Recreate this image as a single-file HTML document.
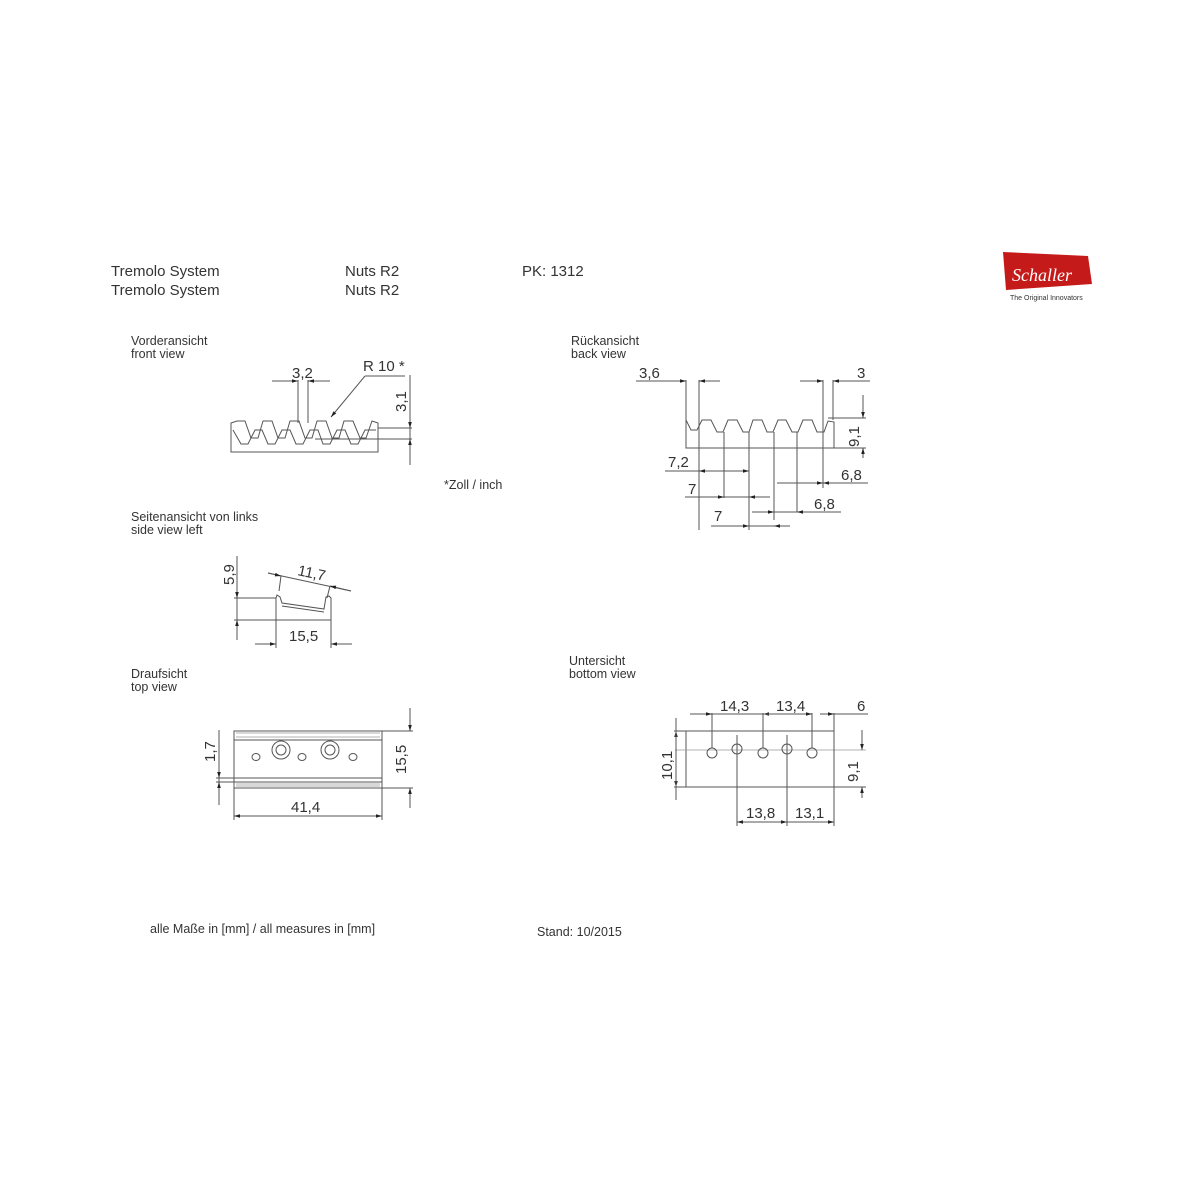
<!DOCTYPE html>
<html><head><meta charset="utf-8"><style>
body{margin:0;background:#fff;}
svg{display:block;}
text{font-family:"Liberation Sans","DejaVu Sans",sans-serif;fill:#333;}
.l{stroke:#555;stroke-width:1;fill:none;}
.t{stroke:#999;stroke-width:0.8;fill:none;}
</style></head><body>
<svg width="1200" height="1200" viewBox="0 0 1200 1200" xmlns="http://www.w3.org/2000/svg">
<defs><marker id="a" viewBox="0 0 10 10" refX="10" refY="5" markerWidth="10" markerHeight="6" orient="auto-start-reverse"><path d="M0,2L10,5L0,8z" fill="#222"/></marker></defs>
<g font-size="15">
<text x="111" y="276">Tremolo System</text><text x="111" y="295">Tremolo System</text>
<text x="345" y="276">Nuts R2</text><text x="345" y="295">Nuts R2</text>
<text x="522" y="276">PK: 1312</text>
</g>
<g font-size="12.5">
<text x="131" y="345">Vorderansicht</text><text x="131" y="358">front view</text>
<text x="571" y="345">Rückansicht</text><text x="571" y="358">back view</text>
<text x="131" y="521">Seitenansicht von links</text><text x="131" y="534">side view left</text>
<text x="131" y="678">Draufsicht</text><text x="131" y="691">top view</text>
<text x="569" y="665">Untersicht</text><text x="569" y="678">bottom view</text>
<text x="444" y="489">*Zoll / inch</text>
<text x="150" y="933">alle Maße in [mm] / all measures in [mm]</text>
<text x="537" y="936">Stand: 10/2015</text>
</g>
<!-- logo -->
<polygon points="1003,252 1088,256 1092,284 1006,290" fill="#c41a1a"/>
<text x="1012" y="281" font-size="18" font-style="italic" style="fill:#fff;font-family:'Liberation Serif',serif">Schaller</text>
<text x="1010" y="300" font-size="7">The Original Innovators</text>

<!-- FRONT VIEW -->
<g class="l">
<path d="M231,452 H378 V423 L372,421 L366,438 L360,438 L353,421 L344,421 L339,438 L332,438 L326,421 L317,421 L312,438 L305,438 L299,421 L290,421 L285,438 L278,438 L272,421 L263,421 L258,438 L251,438 L245,421 L237,421 L231,423 Z"/>
<path d="M233,430 L241,444 L248,444 L255,430 L262,430 L268,444 L275,444 L282,430 L290,430 L296,444 L303,444 L310,430 L318,430 L323,444 L330,444 L337,430 L345,430 L351,444 L358,444 L365,430 L376,430"/>
<line x1="298" y1="380" x2="298" y2="423"/><line x1="308" y1="380" x2="308" y2="423"/>
<line x1="272" y1="381" x2="298" y2="381" marker-end="url(#a)"/><line x1="330" y1="381" x2="308" y2="381" marker-end="url(#a)"/>
<path d="M410,375 V465"/>
<line x1="378" y1="428" x2="412" y2="428"/><line x1="315" y1="439" x2="412" y2="439"/>
<line x1="410" y1="410" x2="410" y2="428" marker-end="url(#a)"/><line x1="410" y1="455" x2="410" y2="439" marker-end="url(#a)"/>
<path d="M365,376 H405"/><line x1="365" y1="376" x2="331" y2="417" marker-end="url(#a)"/>
</g>
<text x="292" y="378" font-size="15">3,2</text>
<text x="363" y="371" font-size="15">R 10 *</text>
<text transform="translate(406,412) rotate(-90)" font-size="15">3,1</text>

<!-- BACK VIEW -->
<g class="l">
<path d="M686,448 H834 V422 L828,421 L824,432 L817,432 L812,420 L803,420 L798,432 L792,432 L786,420 L778,420 L773,432 L767,432 L762,420 L753,420 L749,432 L743,432 L737,420 L728,420 L723,432 L717,432 L711,420 L702,420 L697,430 L691,430 L686,420 Z"/>
<line x1="686" y1="380" x2="686" y2="420"/><line x1="699" y1="380" x2="699" y2="530"/>
<line x1="724" y1="432" x2="724" y2="498"/><line x1="749" y1="432" x2="749" y2="530"/>
<line x1="774" y1="432" x2="774" y2="520"/><line x1="797" y1="432" x2="797" y2="512"/>
<line x1="823" y1="380" x2="823" y2="488"/><line x1="833" y1="380" x2="833" y2="420"/>
<line x1="636" y1="381" x2="686" y2="381" marker-end="url(#a)"/><line x1="720" y1="381" x2="699" y2="381" marker-end="url(#a)"/>
<line x1="800" y1="381" x2="823" y2="381" marker-end="url(#a)"/><line x1="870" y1="381" x2="833" y2="381" marker-end="url(#a)"/>
<line x1="828" y1="418" x2="866" y2="418"/><line x1="834" y1="448" x2="866" y2="448"/>
<line x1="863" y1="395" x2="863" y2="418" marker-end="url(#a)"/><line x1="863" y1="458" x2="863" y2="448" marker-end="url(#a)"/>
<line x1="665" y1="471" x2="699" y2="471"/><line x1="699" y1="471" x2="749" y2="471"/>
<line x1="720" y1="471" x2="699" y2="471" marker-end="url(#a)"/><line x1="735" y1="471" x2="749" y2="471" marker-end="url(#a)"/>
<line x1="685" y1="497" x2="770" y2="497"/>
<line x1="712" y1="497" x2="724" y2="497" marker-end="url(#a)"/><line x1="760" y1="497" x2="749" y2="497" marker-end="url(#a)"/>
<line x1="711" y1="526" x2="790" y2="526"/>
<line x1="737" y1="526" x2="749" y2="526" marker-end="url(#a)"/><line x1="785" y1="526" x2="774" y2="526" marker-end="url(#a)"/>
<line x1="777" y1="483" x2="868" y2="483"/>
<line x1="797" y1="483" x2="823" y2="483" marker-end="url(#a)"/><line x1="846" y1="483" x2="823" y2="483" marker-end="url(#a)"/>
<line x1="752" y1="512" x2="841" y2="512"/>
<line x1="768" y1="512" x2="774" y2="512" marker-end="url(#a)"/><line x1="806" y1="512" x2="797" y2="512" marker-end="url(#a)"/>
</g>
<g font-size="15">
<text x="639" y="378">3,6</text><text x="857" y="378">3</text>
<text transform="translate(859,447) rotate(-90)">9,1</text>
<text x="668" y="467">7,2</text><text x="841" y="480">6,8</text>
<text x="688" y="494">7</text><text x="814" y="509">6,8</text><text x="714" y="521">7</text>
</g>

<!-- SIDE VIEW -->
<g class="l">
<path d="M276,620 H331 V598 L329,596 L326,597 L324,609 L282,603 L280,597 L277,595 L276,598 Z"/>
<path d="M282,606 L324,612"/>
<line x1="237" y1="556" x2="237" y2="640"/>
<line x1="234" y1="598" x2="276" y2="598"/><line x1="234" y1="620" x2="276" y2="620"/>
<line x1="237" y1="585" x2="237" y2="598" marker-end="url(#a)"/><line x1="237" y1="632" x2="237" y2="620" marker-end="url(#a)"/>
<line x1="276" y1="620" x2="276" y2="648"/><line x1="331" y1="620" x2="331" y2="648"/>
<line x1="255" y1="644" x2="276" y2="644" marker-end="url(#a)"/><line x1="352" y1="644" x2="331" y2="644" marker-end="url(#a)"/>
<line x1="268" y1="573" x2="351" y2="591"/>
<line x1="279" y1="591" x2="281" y2="576"/><line x1="327" y1="598" x2="330" y2="586"/>
<line x1="268" y1="573" x2="281" y2="576" marker-end="url(#a)"/><line x1="351" y1="591" x2="330" y2="586" marker-end="url(#a)"/>
</g>
<text x="289" y="641" font-size="15">15,5</text>
<text transform="translate(297,575) rotate(12)" font-size="15">11,7</text>
<text transform="translate(234,585) rotate(-90)" font-size="15">5,9</text>

<!-- TOP VIEW -->
<g class="l">
<rect x="234" y="731" width="148" height="57"/>
<line x1="234" y1="740" x2="382" y2="740"/><line x1="234" y1="778" x2="382" y2="778"/>
<line x1="234" y1="782" x2="382" y2="782"/>
<path d="M236,733 h144 M236,737 h144 M236,784 h144 M236,786 h144" class="t"/>
<circle cx="281" cy="750" r="9"/><circle cx="281" cy="750" r="5"/>
<circle cx="330" cy="750" r="9"/><circle cx="330" cy="750" r="5"/>
<ellipse cx="256" cy="757" rx="4" ry="3.5"/><ellipse cx="302" cy="757" rx="4" ry="3.5"/><ellipse cx="353" cy="757" rx="4" ry="3.5"/>
<line x1="219" y1="730" x2="219" y2="805"/>
<line x1="216" y1="778" x2="234" y2="778"/><line x1="216" y1="782" x2="234" y2="782"/>
<line x1="219" y1="764" x2="219" y2="778" marker-end="url(#a)"/><line x1="219" y1="796" x2="219" y2="782" marker-end="url(#a)"/>
<line x1="382" y1="731" x2="413" y2="731"/><line x1="382" y1="788" x2="413" y2="788"/>
<line x1="410" y1="708" x2="410" y2="731" marker-end="url(#a)"/><line x1="410" y1="808" x2="410" y2="788" marker-end="url(#a)"/>
<line x1="234" y1="788" x2="234" y2="820"/><line x1="382" y1="788" x2="382" y2="820"/>
<line x1="308" y1="816" x2="234" y2="816" marker-end="url(#a)"/><line x1="308" y1="816" x2="382" y2="816" marker-end="url(#a)"/>
</g>
<text x="291" y="812" font-size="15">41,4</text>
<text transform="translate(215,762) rotate(-90)" font-size="15">1,7</text>
<text transform="translate(406,774) rotate(-90)" font-size="15">15,5</text>

<!-- BOTTOM VIEW -->
<g class="l">
<rect x="686" y="731" width="148" height="56"/>
<line x1="675" y1="750" x2="866" y2="750" class="t"/>
<circle cx="712" cy="753" r="5"/><circle cx="737" cy="749" r="5"/><circle cx="763" cy="753" r="5"/><circle cx="787" cy="749" r="5"/><circle cx="812" cy="753" r="5"/>
<line x1="712" y1="713" x2="712" y2="748"/><line x1="763" y1="713" x2="763" y2="748"/><line x1="812" y1="713" x2="812" y2="748"/>
<line x1="737" y1="735" x2="737" y2="826"/><line x1="787" y1="735" x2="787" y2="826"/><line x1="834" y1="713" x2="834" y2="826"/>
<line x1="690" y1="714" x2="712" y2="714" marker-end="url(#a)"/><line x1="712" y1="714" x2="763" y2="714"/>
<line x1="775" y1="714" x2="763" y2="714" marker-end="url(#a)"/><line x1="763" y1="714" x2="812" y2="714"/><line x1="800" y1="714" x2="812" y2="714" marker-end="url(#a)"/>
<line x1="820" y1="714" x2="834" y2="714" marker-end="url(#a)"/><line x1="868" y1="714" x2="834" y2="714"/>
<line x1="737" y1="822" x2="787" y2="822"/><line x1="760" y1="822" x2="737" y2="822" marker-end="url(#a)"/><line x1="765" y1="822" x2="787" y2="822" marker-end="url(#a)"/>
<line x1="787" y1="822" x2="834" y2="822"/><line x1="810" y1="822" x2="834" y2="822" marker-end="url(#a)"/>
<line x1="674" y1="731" x2="686" y2="731"/><line x1="674" y1="787" x2="686" y2="787"/>
<line x1="676" y1="745" x2="676" y2="731" marker-end="url(#a)"/><line x1="676" y1="775" x2="676" y2="787" marker-end="url(#a)"/>
<line x1="676" y1="718" x2="676" y2="800"/>
<line x1="834" y1="787" x2="866" y2="787"/>
<line x1="862" y1="730" x2="862" y2="750" marker-end="url(#a)"/><line x1="862" y1="798" x2="862" y2="787" marker-end="url(#a)"/>
</g>
<g font-size="15">
<text x="720" y="711">14,3</text><text x="776" y="711">13,4</text><text x="857" y="711">6</text>
<text x="746" y="818">13,8</text><text x="795" y="818">13,1</text>
<text transform="translate(672,780) rotate(-90)">10,1</text>
<text transform="translate(858,782) rotate(-90)">9,1</text>
</g>
</svg>
</body></html>
